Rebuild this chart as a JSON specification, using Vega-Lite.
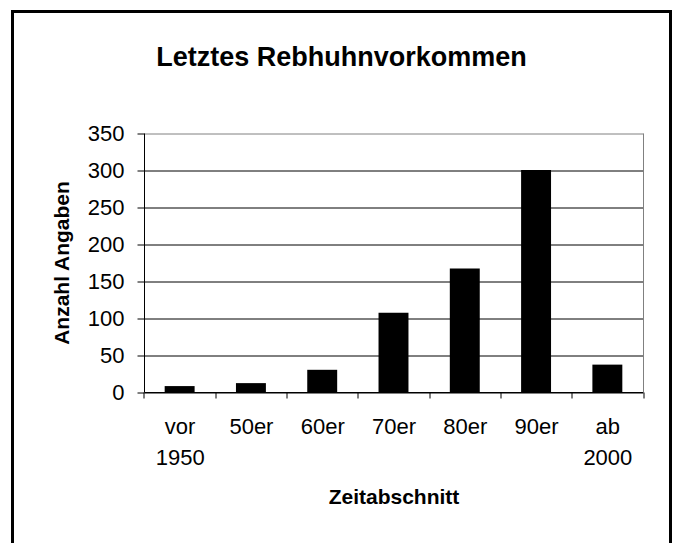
{
  "$schema": "https://vega.github.io/schema/vega-lite/v6.json",
  "autosize": "none",
  "width": 658,
  "height": 540,
  "padding": {"left": 12.5, "top": 11.5, "right": 5.5, "bottom": -8.5},
  "background": "white",
  "title": {
    "text": "Letztes Rebhuhnvorkommen",
    "font": "Liberation Sans",
    "fontSize": 27,
    "fontWeight": "bold",
    "color": "black",
    "anchor": "middle",
    "frame": "group",
    "baseline": "alphabetic",
    "offset": 0,
    "dy": 81.5
  },
  "data": {
    "values": [
      {"zeit": "vor 1950", "anzahl": 8},
      {"zeit": "50er", "anzahl": 12},
      {"zeit": "60er", "anzahl": 30},
      {"zeit": "70er", "anzahl": 107},
      {"zeit": "80er", "anzahl": 167},
      {"zeit": "90er", "anzahl": 300},
      {"zeit": "ab 2000", "anzahl": 37}
    ]
  },
  "encoding": {
    "x": {
      "field": "zeit",
      "type": "nominal",
      "sort": null,
      "scale": {"range": [131.5, 630.5], "paddingInner": 0, "paddingOuter": 0},
      "axis": {
        "title": "Zeitabschnitt",
        "labelAngle": 0,
        "labelExpr": "split(datum.label, ' ')",
        "labelFont": "Liberation Sans",
        "labelFontSize": 22,
        "labelColor": "black",
        "labelLineHeight": 31,
        "labelBaseline": "alphabetic",
        "labelPadding": 35,
        "ticks": true,
        "tickSize": 6,
        "tickColor": "black",
        "domainColor": "black",
        "tickBand": "extent",
        "offset": -159.5,
        "grid": false,
        "titleFont": "Liberation Sans",
        "titleFontSize": 21,
        "titleFontWeight": "bold",
        "titleColor": "black",
        "titleBaseline": "alphabetic",
        "titleY": 111
      }
    }
  },
  "layer": [
    {
      "mark": {"type": "bar", "color": "black", "width": {"band": 0.42}},
      "encoding": {
        "y": {
          "field": "anzahl",
          "type": "quantitative",
          "scale": {"domain": [0, 350], "range": [380.5, 121.5], "nice": false},
          "axis": {
            "title": "Anzahl Angaben",
            "values": [0, 50, 100, 150, 200, 250, 300, 350],
            "offset": -131.5,
            "labelFont": "Liberation Sans",
            "labelFontSize": 22,
            "labelColor": "black",
            "labelBaseline": "middle",
            "labelPadding": 13,
            "tickSize": 7,
            "tickColor": "black",
            "domainColor": "black",
            "grid": true,
            "gridColor": {"condition": {"test": "datum.value === 350", "value": "#808080"}, "value": "black"},
            "gridOpacity": 1,
            "titleFont": "Liberation Sans",
            "titleFontSize": 21,
            "titleFontWeight": "bold",
            "titleColor": "black",
            "titleBaseline": "alphabetic",
            "titleX": -76
          }
        }
      }
    },
    {
      "mark": {"type": "bar", "color": "black", "opacity": 0, "width": {"band": 0.42}},
      "encoding": {
        "y": {
          "field": "anzahl",
          "type": "quantitative",
          "scale": {"domain": [0, 350], "range": [380.5, 121.5], "nice": false},
          "axis": {
            "orient": "right",
            "offset": -27.5,
            "title": null,
            "labels": false,
            "ticks": false,
            "grid": false,
            "domainColor": "#808080"
          }
        }
      }
    }
  ],
  "resolve": {"axis": {"y": "independent"}},
  "config": {
    "view": {"stroke": "black", "strokeWidth": 3, "fill": "white"}
  }
}
